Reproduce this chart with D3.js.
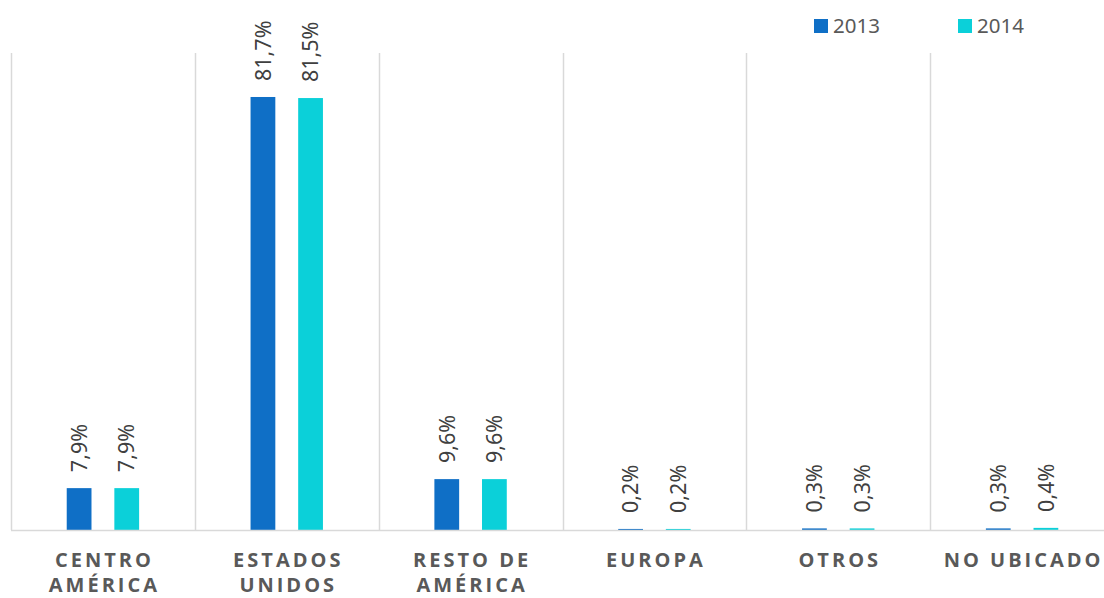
<!DOCTYPE html>
<html>
<head>
<meta charset="utf-8">
<script src="https://cdn.jsdelivr.net/npm/d3@7"></script>
<style>
  html, body { margin: 0; padding: 0; background: #fff; }
  svg { display: block; }
</style>
</head>
<body>
<svg id="chart" width="1104" height="598"></svg>
<script>
const categories = [["CENTRO", "AMÉRICA"], ["ESTADOS", "UNIDOS"], ["RESTO DE", "AMÉRICA"], ["EUROPA"], ["OTROS"], ["NO UBICADO"]];
const seriesNames = ["2013", "2014"];
const values2013 = [7.9, 81.7, 9.6, 0.2, 0.3, 0.3];
const values2014 = [7.9, 81.5, 9.6, 0.2, 0.3, 0.4];
const colors = ["#0F6FC6", "#0BD0D9"];

const svg = d3.select("#chart");
const W = 1104, H = 598;
const plotLeft = 11, plotRight = 1114, plotTop = 53, baseY = 530;

const catKeys = categories.map(c => c.join(" "));
const x0 = d3.scaleBand().domain(catKeys).range([plotLeft, plotRight]).padding(0);
const x1 = d3.scaleBand().domain(seriesNames).range([0, x0.bandwidth()]).paddingInner(0.48).paddingOuter(1.17);
const y = d3.scaleLinear().domain([0, 90]).range([baseY, plotTop]);

const data = catKeys.map((k, i) => ({ key: k, vals: [values2013[i], values2014[i]] }));

// vertical separators
const seps = catKeys.map(k => x0(k)).concat([x0(catKeys[catKeys.length - 1]) + x0.bandwidth()]);
svg.append("g").selectAll("line").data(seps).join("line")
  .attr("x1", d => Math.round(d) + 0.5).attr("x2", d => Math.round(d) + 0.5)
  .attr("y1", plotTop).attr("y2", baseY)
  .attr("stroke", "#d9d9d9").attr("stroke-width", 1.5);

// bars
const groups = svg.append("g").selectAll("g").data(data).join("g")
  .attr("transform", d => `translate(${x0(d.key)},0)`);
groups.selectAll("rect").data(d => d.vals.map((v, j) => ({ s: seriesNames[j], v, j }))).join("rect")
  .attr("x", d => x1(d.s)).attr("width", x1.bandwidth())
  .attr("y", d => y(d.v)).attr("height", d => baseY - y(d.v))
  .attr("fill", d => colors[d.j]);

// data labels
const fmt = v => d3.format(".1f")(v).replace(".", ",") + "%";
groups.selectAll("text").data(d => d.vals.map((v, j) => ({ s: seriesNames[j], v, j }))).join("text")
  .attr("transform", d => `translate(${x1(d.s) + x1.bandwidth() / 2},${y(d.v) - 16}) rotate(-90)`)
  .attr("text-anchor", "start").attr("dy", "0.36em")
  .attr("font-family", "'Noto Sans', sans-serif").attr("font-size", 21.5)
  .attr("fill", "#404040")
  .text(d => fmt(d.v));

// baseline
svg.append("line").attr("x1", plotLeft).attr("x2", W).attr("y1", baseY + 0.5).attr("y2", baseY + 0.5)
  .attr("stroke", "#d9d9d9").attr("stroke-width", 1.5);

// category labels
const catG = svg.append("g");
categories.forEach((lines, i) => {
  const cx = x0(catKeys[i]) + x0.bandwidth() / 2;
  const t = catG.append("text")
    .attr("text-anchor", "middle")
    .attr("font-family", "'Open Sans', sans-serif").attr("font-weight", "bold")
    .attr("font-size", 20).attr("letter-spacing", "3px")
    .attr("fill", "#595959");
  lines.forEach((ln, li) => {
    t.append("tspan").attr("x", cx + 1.5).attr("y", 567 + li * 25).text(ln);
  });
});

// legend
const legendX = [814, 958];
seriesNames.forEach((s, i) => {
  svg.append("rect").attr("x", legendX[i]).attr("y", 19).attr("width", 14).attr("height", 14).attr("fill", colors[i]);
  svg.append("text").attr("x", legendX[i] + 19).attr("y", 33)
    .attr("font-family", "'Noto Sans', sans-serif").attr("font-size", 20.5)
    .attr("fill", "#595959").text(s);
});
</script>
</body>
</html>
